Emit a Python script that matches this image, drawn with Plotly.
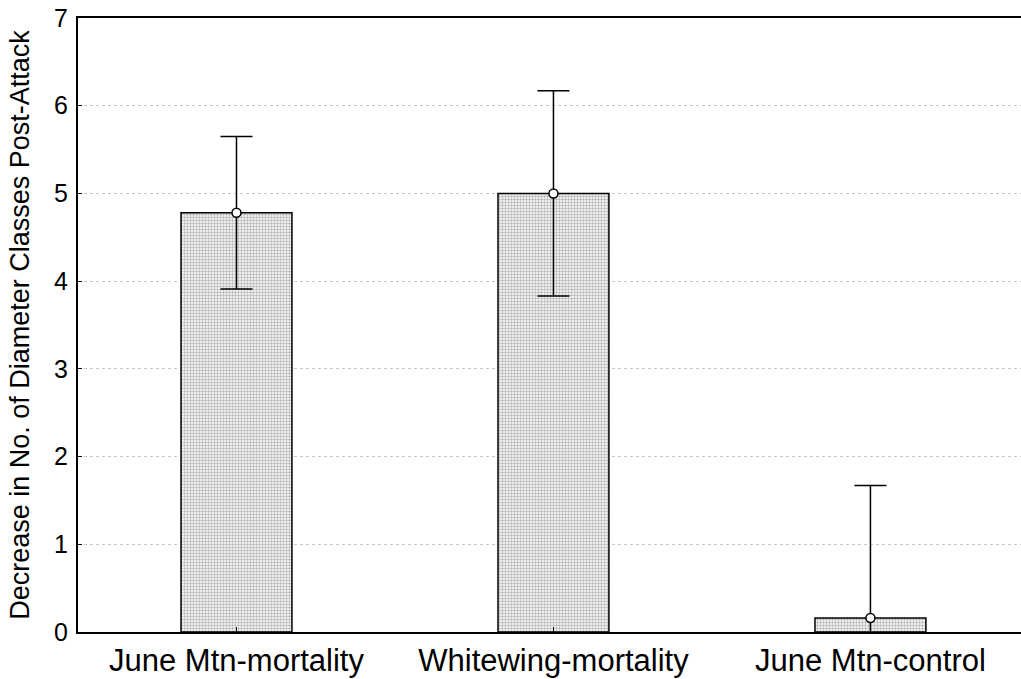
import plotly.graph_objects as go

categories = ["June Mtn-mortality", "Whitewing-mortality", "June Mtn-control"]
means = [4.78, 5.00, 0.16]
errors = [0.87, 1.17, 1.51]
y_ticks = [0, 1, 2, 3, 4, 5, 6, 7]

FONT = "Arial, Liberation Sans, sans-serif"

fig = go.Figure()
fig.add_trace(go.Bar(
    x=categories, y=means, width=0.35,
    marker=dict(color="white", line=dict(color="black", width=1.5),
                pattern=dict(shape=".", fgcolor="#6a6a6a", bgcolor="white",
                             size=3, solidity=0.5)),
    showlegend=False, hoverinfo="skip",
))
fig.add_trace(go.Scatter(
    x=categories, y=means, mode="markers",
    marker=dict(symbol="circle", size=9, color="white",
                line=dict(color="black", width=1.5)),
    error_y=dict(type="data", array=errors, visible=True,
                 color="black", thickness=1.5, width=16),
    cliponaxis=True, showlegend=False,
))

fig.update_layout(
    width=1021, height=679,
    margin=dict(l=78, r=0, t=18, b=47),
    paper_bgcolor="white", plot_bgcolor="white",
    font=dict(family=FONT, color="black"),
    bargap=0.65,
)
fig.update_xaxes(
    range=[-0.5, 2.475], showline=True, linecolor="black", linewidth=2,
    mirror=True, ticks="inside", ticklen=5, tickwidth=1, tickcolor="black",
    tickfont=dict(size=31, family=FONT), showgrid=False, zeroline=False,
)
fig.update_yaxes(
    range=[0, 7], tickvals=y_ticks, showline=True, linecolor="black",
    linewidth=2, ticks="inside", ticklen=4, tickcolor="black",
    tickfont=dict(size=25, family=FONT), ticklabelstandoff=3,
    showgrid=True, gridcolor="#c8c8c8", griddash="dot", gridwidth=1,
    zeroline=False,
    title=dict(text="Decrease in No. of Diameter Classes Post-Attack",
               font=dict(size=27, family=FONT), standoff=17),
)

fig.write_html("out.html")
